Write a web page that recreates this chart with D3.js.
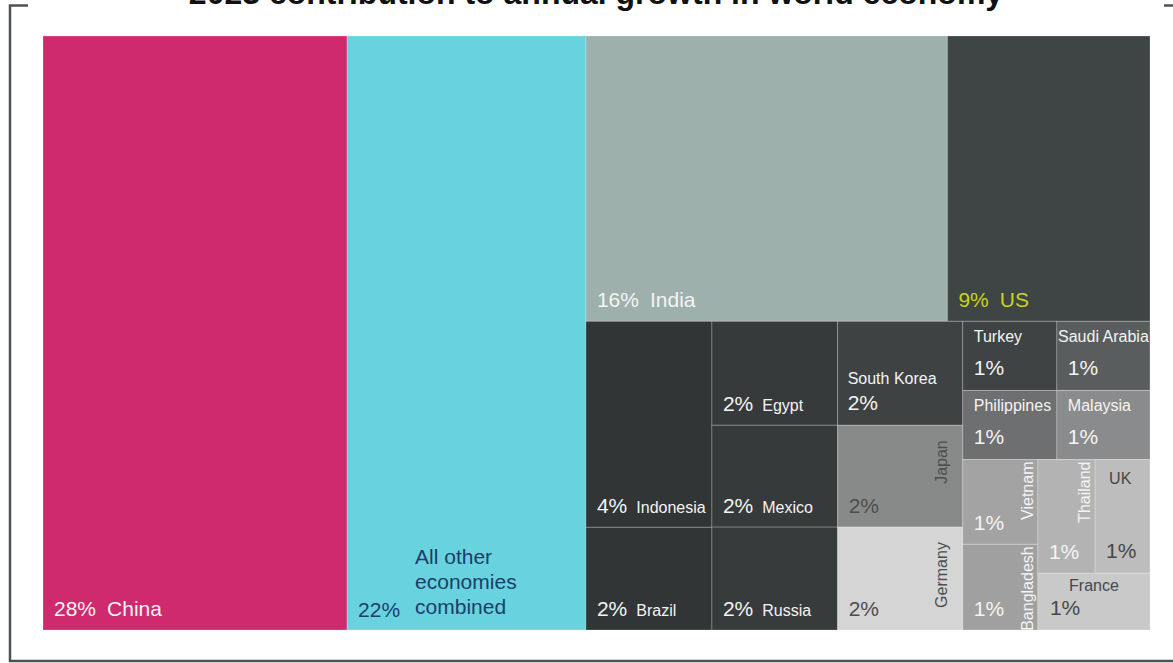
<!DOCTYPE html>
<html>
<head>
<meta charset="utf-8">
<script src="https://cdn.jsdelivr.net/npm/d3@7"></script>
<style>
    body { margin: 0; background: #fff; }
    svg { display: block; font-family: "Liberation Sans", Arial, sans-serif; }
</style>
</head>
<body>
<svg id="chart"></svg>
<script>
const width = 1173;
const height = 663;
const area = {x: 43, y: 36, w: 1107, h: 594};

// contribution to world growth, percent
const names = ['China', 'All other economies combined', 'India', 'US',
    'Indonesia', 'Brazil', 'Egypt', 'Mexico', 'Russia',
    'South Korea', 'Japan', 'Germany',
    'Turkey', 'Saudi Arabia', 'Philippines', 'Malaysia',
    'Vietnam', 'Bangladesh', 'Thailand', 'UK', 'France'];
const shares = [27.5, 21.6, 15.7, 8.8,
    3.95, 1.97, 1.99, 1.95, 1.97,
    1.98, 1.94, 1.96,
    0.99, 0.98, 0.99, 0.98,
    0.97, 0.98, 0.99, 0.95, 0.97];
// nesting used by the slice/dice layout
const groups = ['', '', 'a/top', 'a/top',
    'a/low/c1', 'a/low/c1', 'a/low/c2', 'a/low/c2', 'a/low/c2',
    'a/low/c3', 'a/low/c3', 'a/low/c3',
    'a/low/c4/r1', 'a/low/c4/r1', 'a/low/c4/r2', 'a/low/c4/r2',
    'a/low/c4/r3/v', 'a/low/c4/r3/v', 'a/low/c4/r3/t/u', 'a/low/c4/r3/t/u', 'a/low/c4/r3/t'];

const fills = {
    'China': '#cf2a6d', 'All other economies combined': '#68d2df',
    'India': '#9db0ac', 'US': '#3f4444',
    'Indonesia': '#323536', 'Brazil': '#323536',
    'Egypt': '#373a3b', 'Mexico': '#373a3b', 'Russia': '#383b3c',
    'South Korea': '#3e4242', 'Japan': '#888a89', 'Germany': '#d5d5d5',
    'Turkey': '#3f4343', 'Saudi Arabia': '#5a5d5e',
    'Philippines': '#6e6f70', 'Malaysia': '#8a8b8c',
    'Vietnam': '#a3a3a3', 'Bangladesh': '#a0a0a0',
    'Thailand': '#b3b3b3', 'UK': '#bdbdbd', 'France': '#c9c9c9'
};
const inks = {
    'US': '#c8d41c', 'All other economies combined': '#1b3f66',
    'Japan': '#4b4e4f', 'Germany': '#4b4e4f', 'UK': '#454849', 'France': '#454849'
};
const modes = {
    'China': 'big', 'India': 'big', 'US': 'big',
    'All other economies combined': 'wrap',
    'Indonesia': 'inline', 'Brazil': 'inline', 'Egypt': 'inline',
    'Mexico': 'inline', 'Russia': 'inline',
    'South Korea': 'stackLow',
    'Turkey': 'stackTop', 'Saudi Arabia': 'stackTop',
    'Philippines': 'stackTop', 'Malaysia': 'stackTop',
    'Japan': 'rotated', 'Germany': 'rotated', 'Vietnam': 'rotated',
    'Bangladesh': 'rotated', 'Thailand': 'rotated',
    'UK': 'corner', 'France': 'centered'
};

function buildTree() {
    const tree = {name: 'root', children: []};
    names.forEach((name, i) => {
        let node = tree;
        if (groups[i]) {
            groups[i].split('/').forEach(key => {
                let child = node.children.find(c => c.name === key && c.children);
                if (!child) {
                    child = {name: key, children: []};
                    node.children.push(child);
                }
                node = child;
            });
        }
        node.children.push({name: name, value: shares[i]});
    });
    return tree;
}

const root = d3.hierarchy(buildTree()).sum(_ => _.value || 0);
d3.treemap()
    .tile(d3.treemapSliceDice)
    .size([area.w, area.h])
    .round(false)(root);

const pct = _ => `${Math.round(_.value)}%`;
const ink = _ => inks[_.data.name] || '#f4f4f4';

const svg = d3.select('#chart')
    .attr('width', width)
    .attr('height', height);

svg.append('path')
    .attr('d', `M28,5.5H10V661H${width + 2}M1164,5.5H${width + 2}`)
    .attr('fill', 'none')
    .attr('stroke', '#4d5253')
    .attr('stroke-width', 2.5);

svg.append('text')
    .attr('x', 596)
    .attr('y', 4)
    .attr('text-anchor', 'middle')
    .style('font-size', '32px')
    .style('font-weight', 'bold')
    .style('fill', '#111')
    .text('2023 contribution to annual growth in world economy');

const cell = svg.append('g')
    .attr('transform', `translate(${area.x},${area.y})`)
    .selectAll('g')
    .data(root.leaves())
    .enter().append('g');

cell.append('rect')
    .attr('x', _ => _.x0)
    .attr('y', _ => _.y0)
    .attr('width', _ => _.x1 - _.x0)
    .attr('height', _ => _.y1 - _.y0)
    .style('fill', _ => fills[_.data.name])
    .style('stroke', 'rgba(255,255,255,0.22)')
    .style('stroke-width', 1);

function label(g, d, x, y, size, text) {
    return g.append('text')
        .attr('x', x)
        .attr('y', y)
        .style('font-size', `${size}px`)
        .style('fill', ink(d))
        .text(text);
}

cell.each(function(d) {
    const g = d3.select(this);
    const w = d.x1 - d.x0;
    const h = d.y1 - d.y0;
    const mode = modes[d.data.name];

    if (mode === 'big' || mode === 'inline') {
        const t = label(g, d, d.x0 + 11, d.y1 - 14, 21, pct(d));
        t.append('tspan')
            .attr('dx', mode === 'big' ? 11 : 9)
            .style('font-size', mode === 'big' ? '21px' : '16px')
            .text(d.data.name);
    } else if (mode === 'wrap') {
        label(g, d, d.x0 + 11, d.y1 - 13, 21, pct(d));
        const probe = label(g, d, 0, 0, 21, '');
        const lines = [];
        let line = [];
        d.data.name.split(' ').forEach(word => {
            probe.text([...line, word].join(' '));
            if (line.length && probe.node().getComputedTextLength() > 120) {
                lines.push(line.join(' '));
                line = [word];
            } else {
                line.push(word);
            }
        });
        lines.push(line.join(' '));
        probe.remove();
        lines.forEach((l, i) => {
            label(g, d, d.x0 + 68, d.y1 - 16 - 25 * (lines.length - 1 - i), 21, l);
        });
    } else if (mode === 'stackLow') {
        label(g, d, d.x0 + 10, d.y1 - 41, 16, d.data.name);
        label(g, d, d.x0 + 10, d.y1 - 15, 21, pct(d));
    } else if (mode === 'stackTop') {
        const t = label(g, d, d.x0 + 11, d.y0 + 21, 16, d.data.name);
        const len = t.node().getComputedTextLength();
        if (len > w - 14) {
            t.attr('x', d.x0 + (w - len) / 2);
        }
        label(g, d, d.x0 + 11, d.y0 + 54, 21, pct(d));
    } else if (mode === 'rotated') {
        const roomy = w > 100 && h > 100;
        label(g, d, d.x0 + 11, d.y1 - 14, 21, pct(d));
        g.append('text')
            .attr('transform', `translate(${d.x1 - (roomy ? 16 : 5)},${d.y0 + (roomy ? 15 : 2)}) rotate(-90)`)
            .attr('text-anchor', 'end')
            .style('font-size', '16px')
            .style('fill', ink(d))
            .text(d.data.name);
    } else if (mode === 'corner') {
        label(g, d, d.x0 + 14, d.y0 + 24, 16, d.data.name);
        label(g, d, d.x0 + 11, d.y1 - 15, 21, pct(d));
    } else if (mode === 'centered') {
        label(g, d, (d.x0 + d.x1) / 2, d.y0 + 18, 16, d.data.name)
            .attr('text-anchor', 'middle');
        label(g, d, d.x0 + 12, d.y1 - 15, 21, pct(d));
    }
});
</script>
</body>
</html>
